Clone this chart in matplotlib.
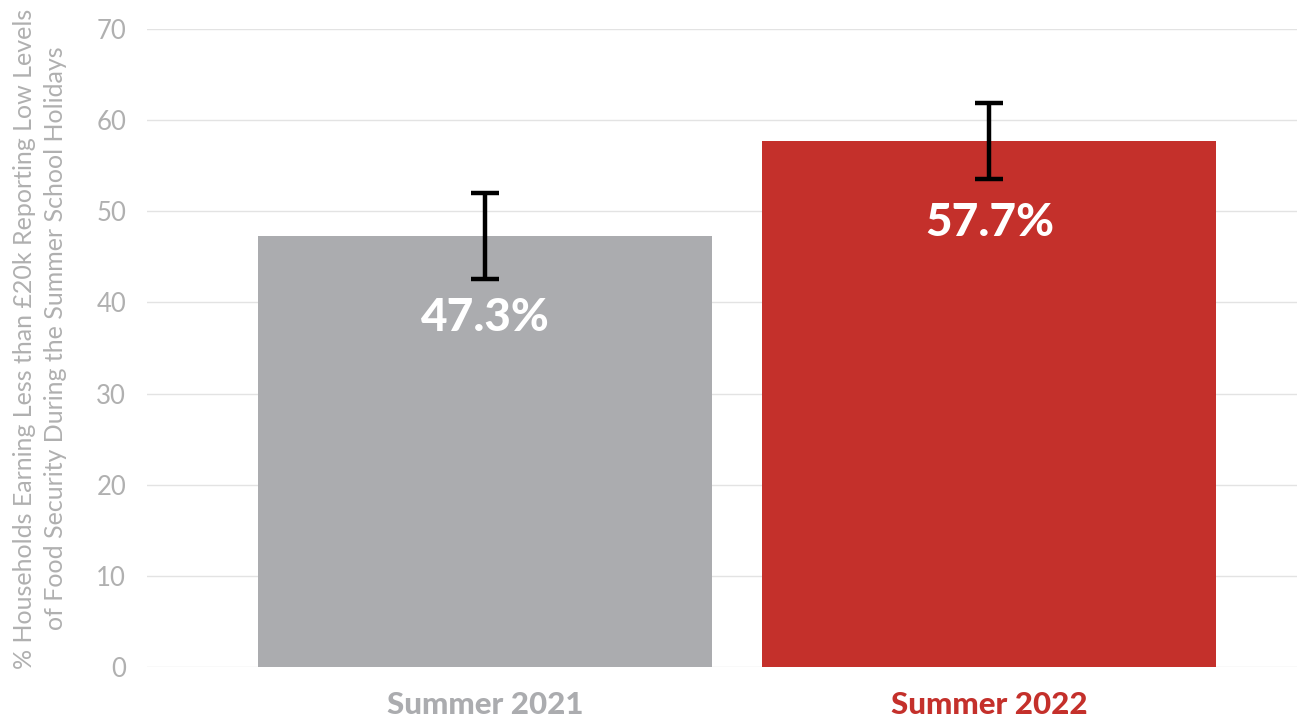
import matplotlib
matplotlib.use('Agg')
import matplotlib.pyplot as plt

categories = ['Summer 2021', 'Summer 2022']
values = [47.3, 57.7]
errors = [4.7, 4.2]
labels = ['47.3%', '57.7%']
colors = ['#abacaf', '#c4302b']
yticks = [0, 10, 20, 30, 40, 50, 60, 70]

plt.rcParams['font.family'] = ['Lato', 'DejaVu Sans']

fig = plt.figure(figsize=(12.97, 7.2), dpi=100)
ax = fig.add_axes([147/1297, 53/720, 1 - 147/1297, 638/720])

x = range(len(categories))
ax.bar(x, values, width=0.9, color=colors, zorder=2)
eb = ax.errorbar(x, values, yerr=errors, fmt='none', ecolor='black',
                 elinewidth=3.2, capsize=10, capthick=3.2, zorder=3)

for i, v in enumerate(values):
    ax.text(i, v - 9, labels[i], ha='center', va='center', color='white',
            fontsize=33, fontweight='black', zorder=4)

ax.set_xlim(-0.67, 1.61)
ax.set_ylim(0, 70)
ax.set_yticks(yticks)
ax.set_yticklabels([str(t) for t in yticks])
ax.grid(axis='y', color='#e3e3e3', linewidth=1, zorder=0)
for s in ax.spines.values():
    s.set_visible(False)
ax.tick_params(axis='y', length=0, pad=15, labelsize=18.5, labelcolor='#b0b0b0')
ax.tick_params(axis='x', length=0, pad=17)
ax.set_xticks(list(x))
ax.set_xticklabels(categories, fontsize=22.5, fontweight='black')
for lbl, c in zip(ax.get_xticklabels(), colors):
    lbl.set_color(c)

fig.text(0.031, 0.53, '% Households Earning Less than £20k Reporting Low Levels\n'
         'of Food Security During the Summer School Holidays',
         rotation=90, ha='center', va='center', fontsize=18, color='#b0b0b0',
         linespacing=1.4)

fig.savefig('out.png', dpi=100)
